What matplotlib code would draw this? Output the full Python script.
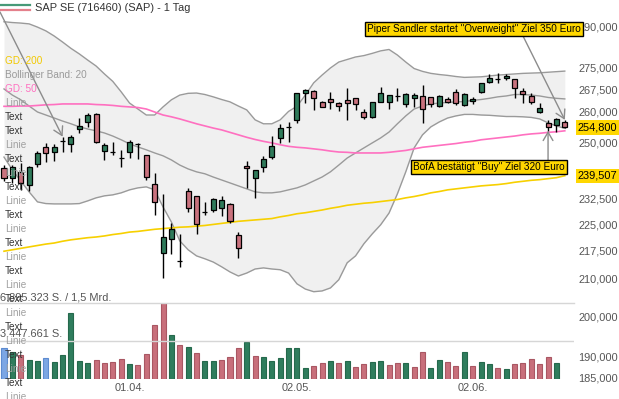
import numpy as np
import matplotlib
matplotlib.use("Agg")
import matplotlib.pyplot as plt
from matplotlib.lines import Line2D
from matplotlib.ticker import FixedLocator, FuncFormatter, NullLocator
from matplotlib.transforms import blended_transform_factory

plt.rcParams['font.family'] = ['Liberation Sans', 'DejaVu Sans']

# SAP SE (716460) - Tageskerzen, 11.03. bis 17.06.
opens = [241.8, 238.7, 240.5, 236.7, 243.2, 248.4, 246.8, 250.5, 249.4, 254.4,
         256.5, 259.4, 247.2, 246.8, 244.9, 246.8, 249.5, 245.9, 236.9, 216.9,
         220.8, 214.7, 234.9, 233.4, 228.6, 229.2, 229.7, 230.9, 222.0, 242.5,
         238.7, 242.1, 245.3, 251.3, 255.1, 257.3, 266.2, 267.0, 263.2, 264.2,
         262.8, 264.0, 264.5, 259.8, 258.4, 263.4, 263.4, 265.4, 262.5, 264.5,
         265.4, 264.9, 262.0, 264.2, 266.6, 262.3, 263.6, 266.6, 270.2, 271.3,
         271.4, 271.0, 267.0, 265.4, 260.0, 256.2, 255.6, 256.7]
highs = [242.8, 242.8, 243.5, 242.5, 247.2, 249.7, 249.4, 251.8, 252.4, 257.8,
         259.5, 259.5, 249.7, 250.2, 247.6, 250.8, 249.7, 246.0, 240.3, 233.9,
         225.4, 222.3, 235.8, 233.5, 231.5, 232.9, 233.4, 231.2, 222.9, 244.1,
         241.3, 245.7, 252.0, 255.9, 256.7, 266.4, 267.6, 267.4, 263.7, 266.8,
         263.4, 268.1, 264.6, 260.9, 263.2, 268.5, 265.7, 267.9, 266.4, 266.2,
         269.1, 265.1, 265.6, 265.1, 267.6, 266.2, 265.1, 269.9, 272.9, 273.4,
         272.9, 271.1, 267.9, 266.4, 262.8, 257.3, 257.8, 257.3]
lows = [238.0, 237.4, 235.2, 235.0, 242.1, 243.9, 244.2, 247.0, 247.0, 252.9,
        254.9, 249.7, 244.4, 246.0, 242.3, 244.9, 244.6, 238.2, 227.8, 210.0,
        216.6, 213.0, 228.7, 222.3, 227.6, 228.7, 227.3, 225.4, 215.5, 235.9,
        232.7, 240.6, 244.7, 249.7, 250.2, 256.2, 263.0, 260.6, 261.5, 260.8,
        260.4, 257.3, 260.6, 257.5, 257.8, 263.3, 260.8, 263.7, 261.7, 261.7,
        256.2, 261.7, 261.5, 262.8, 262.3, 262.0, 262.6, 266.2, 269.7, 269.7,
        270.8, 264.5, 262.8, 262.6, 259.5, 253.7, 253.4, 254.5]
closes = [238.7, 242.3, 237.2, 242.3, 246.5, 246.6, 248.4, 250.5, 251.8, 255.3,
          258.9, 250.0, 249.2, 246.8, 244.9, 250.0, 249.5, 239.0, 231.5, 221.4,
          223.7, 214.7, 229.9, 225.1, 228.6, 232.4, 232.1, 226.1, 218.4, 241.8,
          241.3, 244.7, 248.8, 254.5, 255.1, 266.2, 267.4, 264.5, 261.7, 263.2,
          261.9, 262.8, 262.5, 258.2, 263.2, 266.2, 265.6, 265.4, 266.0, 265.6,
          260.9, 262.6, 265.4, 263.4, 262.8, 265.9, 264.2, 269.7, 271.4, 271.3,
          272.3, 267.9, 265.9, 263.4, 261.2, 254.9, 257.5, 254.8]

# Bollinger Band (20)
bb_upper = [291.8, 291.5, 291.3, 291.0, 289.8, 288.4, 286.5, 284.3, 282.0, 280.0,
            277.8, 275.7, 272.9, 270.3, 266.7, 262.9, 260.9, 258.9, 258.9, 261.6,
            264.0, 265.6, 266.2, 266.3, 265.8, 265.0, 264.1, 263.3, 261.9, 260.6,
            257.3, 256.0, 256.0, 257.3, 260.1, 261.8, 265.6, 269.8, 272.5, 275.0,
            277.1, 278.0, 278.9, 279.4, 280.2, 281.1, 281.6, 279.6, 277.1, 274.8,
            273.8, 273.1, 272.7, 272.4, 272.0, 271.7, 271.8, 271.9, 272.2, 272.5,
            272.7, 272.9, 273.1, 273.2, 273.3, 273.5, 273.7, 273.9]
bb_mid = [267.7, 265.6, 264.0, 261.9, 259.9, 258.9, 257.9, 256.9, 256.0, 255.0,
          254.3, 253.7, 253.0, 252.0, 250.8, 249.5, 248.5, 247.6, 246.6, 245.7,
          244.4, 242.8, 241.6, 240.7, 240.1, 239.1, 238.2, 237.3, 236.4, 235.5,
          234.6, 234.3, 234.3, 234.6, 235.2, 235.8, 236.7, 237.9, 239.1, 240.7,
          242.8, 245.0, 246.6, 248.2, 249.8, 251.4, 253.3, 256.0, 258.6, 260.9,
          261.9, 262.6, 262.9, 263.1, 263.3, 263.4, 263.8, 264.1, 264.5, 265.0,
          265.3, 265.8, 265.8, 265.6, 265.3, 264.8, 264.5, 264.3]
bb_lower = [245.3, 241.3, 237.9, 234.6, 231.6, 231.1, 231.0, 231.0, 231.0, 231.1,
            231.9, 232.8, 233.4, 233.7, 234.3, 235.2, 235.8, 236.1, 235.2, 230.1,
            225.7, 220.3, 217.8, 216.1, 215.3, 214.4, 213.1, 211.7, 210.6, 211.4,
            212.5, 212.8, 212.5, 212.3, 211.4, 208.5, 207.1, 206.4, 206.6, 207.4,
            209.6, 214.2, 216.1, 219.5, 222.3, 224.9, 228.3, 234.0, 240.7, 248.2,
            252.4, 255.0, 256.6, 257.9, 258.6, 259.1, 259.1, 258.9, 258.8, 258.6,
            258.4, 258.4, 258.3, 258.1, 257.6, 256.3, 255.3, 254.5]

# Gleitende Durchschnitte
gd50 = [261.8, 261.8, 261.9, 261.9, 262.1, 262.3, 262.4, 262.6, 262.6, 262.6,
        262.6, 262.4, 262.3, 262.1, 261.8, 261.6, 261.4, 260.9, 259.9, 258.9,
        258.3, 257.6, 256.8, 256.0, 255.3, 254.6, 254.0, 253.2, 252.4, 251.6,
        250.9, 250.3, 249.8, 249.2, 248.7, 248.4, 248.2, 247.9, 247.6, 247.2,
        246.9, 246.8, 246.6, 246.6, 246.6, 246.6, 246.8, 247.1, 247.4, 247.9,
        248.4, 248.7, 249.0, 249.3, 249.6, 250.0, 250.3, 250.8, 251.1, 251.4,
        251.7, 252.0, 252.4, 252.7, 252.9, 253.2, 253.4, 253.7]
gd200 = [217.4, 217.8, 218.2, 218.6, 219.0, 219.4, 219.7, 220.2, 220.6, 220.9,
         221.2, 221.4, 221.7, 222.1, 222.4, 222.8, 223.0, 223.3, 223.6, 223.8,
         224.0, 224.2, 224.3, 224.5, 224.7, 225.0, 225.3, 225.6, 225.9, 226.1,
         226.3, 226.5, 226.7, 227.2, 227.6, 228.1, 228.4, 228.8, 229.2, 229.7,
         230.1, 230.6, 230.9, 231.2, 231.4, 231.7, 232.0, 232.3, 232.8, 233.2,
         233.7, 234.3, 234.7, 235.2, 235.5, 235.8, 236.1, 236.4, 236.6, 236.8,
         237.1, 237.5, 237.8, 238.1, 238.3, 238.6, 238.9, 239.507]

# Umsatz in Mio. Stueck, Farbe: g = steigend, r = fallend, b = unveraendert
volume_mio = [2.797, 2.432, 2.186, 1.731, 1.640, 1.940, 1.549, 2.186, 6.039, 1.667,
              1.430, 1.731, 1.457, 1.521, 1.822, 1.366, 1.303, 2.277, 4.892, 6.895323,
              4.035, 3.070, 2.915, 2.368, 1.612, 1.612, 1.703, 1.977, 2.824, 3.398,
              2.122, 2.031, 1.640, 1.886, 2.797, 2.851, 0.975, 1.184, 1.457, 1.612,
              1.430, 1.640, 1.066, 1.366, 1.521, 1.667, 1.275, 1.485, 1.457, 1.066,
              2.432, 0.975, 1.703, 1.576, 1.157, 2.487, 1.184, 1.576, 1.339, 1.029,
              0.911, 1.366, 1.430, 1.849, 1.366, 2.004, 1.430, 0.0]
volume_dir = ("bgrggbgggg" "grrrrgrrrr" "grgrggrrrg" "rggggggrrg"
              "rgrrggrrgr" "rggrrgrggr" "grrrrrgr")

date_ticks = [15, 35, 56]
date_labels = ['01.04.', '02.05.', '02.06.']
price_ticks = [290, 275, 267.5, 260, 250, 232.5, 225, 217.5, 210, 200, 190, 185]

legend_items = [('GD: 200', '#f2c900'), ('Bollinger Band: 20', '#9a9a9a'), ('GD: 50', '#ff70c0')]
filler_labels = ['Linie', 'Text', 'Text'] + ['Linie', 'Text'] * 9 + ['Linie']

notes = [('Piper Sandler startet "Overweight" Ziel 350 Euro', 67, 'high'),
         ('BofA bestätigt "Buy" Ziel 320 Euro', 65, 'low')]

GREEN = '#2f7a5a'
RED = '#c9727e'
VCOL = {'g': '#2f7d5d', 'r': '#c86f7b', 'b': '#7ca6e4'}
VEDGE = {'g': '#25694c', 'r': '#a95763', 'b': '#5d8bd0'}
TXT = '#555555'

W, H = 619, 399
fig = plt.figure(figsize=(W / 100, H / 100), dpi=100)
ax = fig.add_axes([0, 19 / H, 574 / W, 380 / H])
vax = fig.add_axes([0, 20 / H, 574 / W, 75.7 / H])

x = np.arange(len(closes))
o = np.array(opens)
c = np.array(closes)
hi = np.array(highs)
lo = np.array(lows)

# Bollinger Band
ax.fill_between(x, bb_lower, bb_upper, color='#f0f0f0', lw=0, zorder=1)
for band in (bb_upper, bb_mid, bb_lower):
    ax.plot(x, band, color='#9a9a9a', lw=1, zorder=2)

ax.plot(x, gd50, color='#ff70c0', lw=1.2, zorder=3)
ax.plot(x, gd200, color='#f7d000', lw=1.2, zorder=3)

# Kerzen
body_col = np.where(c > o, GREEN, np.where(c < o, RED, 'black'))
ax.vlines(x, lo, hi, color='black', lw=1, zorder=4)
ax.bar(x, np.abs(c - o), bottom=np.minimum(o, c), width=0.6, color=body_col,
       edgecolor='black', lw=0.9, zorder=5)

ax.set_yscale('log')
ax.set_ylim(184.3, 300.05)
ax.set_xlim(-0.478, 68.1)
ax.yaxis.tick_right()
ax.yaxis.set_major_locator(FixedLocator(price_ticks))
ax.yaxis.set_minor_locator(NullLocator())
ax.yaxis.set_major_formatter(FuncFormatter(lambda v, p: f"{v:.3f}".replace('.', ',')))
ax.set_xticks(date_ticks)
ax.set_xticklabels(date_labels)
ax.tick_params(axis='both', length=0, labelsize=7.9, labelcolor=TXT)
ax.tick_params(axis='y', pad=3)
ax.tick_params(axis='x', pad=2.5)
for s in ax.spines.values():
    s.set_visible(False)

# hervorgehobene Kurse rechts
blend = blended_transform_factory(ax.transAxes, ax.transData)
for val in (closes[-1], gd200[-1]):
    ax.text(1.0 + 4 / 574, val, f"{val:.3f}".replace('.', ','), transform=blend,
            ha='left', va='center', fontsize=7.9, color='black', clip_on=False, zorder=8,
            bbox=dict(boxstyle='square,pad=0.2', fc='#ffd700', ec='none'))

# Pfeile + Nachrichten
arrow = dict(arrowstyle='->,head_length=0.6,head_width=0.35', color='#8c8c8c', lw=1,
             shrinkA=0, shrinkB=0)
ax.annotate('', xy=(7, highs[7]), xytext=(0, 1 - 12 / 380),
            textcoords='axes fraction', arrowprops=arrow, zorder=6)
ax.annotate('', xy=(notes[0][1], highs[notes[0][1]]), xytext=(523 / 574, 1 - 36 / 380),
            textcoords='axes fraction', arrowprops=arrow, zorder=6)
ax.annotate('', xy=(notes[1][1], lows[notes[1][1]]), xytext=(notes[1][1], 1 - 160 / 380),
            textcoords=('data', 'axes fraction'), arrowprops=arrow, zorder=6)
box = dict(boxstyle='square,pad=0.2', fc='#ffd700', ec='black', lw=1)
ax.text(581 / 574, 1 - 29.3 / 380, notes[0][0], transform=ax.transAxes, ha='right',
        va='center', fontsize=7.2, color='black', bbox=box, zorder=9, clip_on=False)
ax.text(564.5 / 574, 1 - 166.7 / 380, notes[1][0], transform=ax.transAxes, ha='right',
        va='center', fontsize=7.2, color='black', bbox=box, zorder=9, clip_on=False)

# Umsatz
vol = np.array(volume_mio) * 1e6
vmax = int(round(vol.max()))
shown = vol > 0
vax.bar(x[shown], vol[shown], width=0.6,
        color=[VCOL[d] for d, s in zip(volume_dir, shown) if s],
        edgecolor=[VEDGE[d] for d, s in zip(volume_dir, shown) if s], lw=0.8)
vax.set_xlim(ax.get_xlim())
vax.set_ylim(0, vmax)
vax.axhline(vmax, color='#d6d6d6', lw=1, clip_on=False)
vax.axhline(vmax / 2, color='#d6d6d6', lw=1)
vax.patch.set_alpha(0)
vax.set_xticks([])
vax.set_yticks([])
for s in vax.spines.values():
    s.set_visible(False)

turnover = vmax * closes[int(np.argmax(vol))] / 1e9
vax.text(0, 1 + 6.3 / 75.7, f"{vmax:,} S. / {turnover:.1f} Mrd.".replace(',', 'X').replace('.', ',').replace('X', '.').replace(' S, ', ' S. ').replace('Mrd,', 'Mrd.'),
         transform=vax.transAxes, ha='left', va='center', fontsize=7.9, color=TXT, clip_on=False)
vax.text(0, (379 - 334) / 75.7, f"{vmax // 2:,}".replace(',', '.') + " S.",
         transform=vax.transAxes, ha='left', va='center', fontsize=7.9, color=TXT, clip_on=False)

# Titel / Legende oben links
fig.add_artist(Line2D([0, 30 / W], [1 - 5 / H] * 2, transform=fig.transFigure, color='#479a78', lw=1.6))
fig.add_artist(Line2D([0, 30 / W], [1 - 10 / H] * 2, transform=fig.transFigure, color='#e4808c', lw=1.6))
fig.text(35 / W, 1 - 8 / H, 'SAP SE (716460) (SAP) - 1 Tag', ha='left', va='center',
         fontsize=7.9, color='#333333')

# Beschriftungen am linken Rand
side = legend_items + [(t, '#a0a0a0' if t == 'Linie' else '#333333') for t in filler_labels]
for k, (label, col) in enumerate(side):
    fig.text(5 / W, 1 - (60.7 + 14 * k) / H, label, ha='left', va='center',
             fontsize=7.2, color=col)

fig.savefig('out.png', dpi=100)
